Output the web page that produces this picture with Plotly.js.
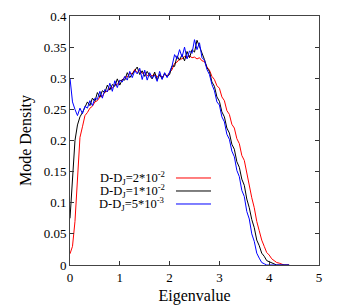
<!DOCTYPE html>
<html><head><meta charset="utf-8">
<script src="https://cdn.plot.ly/plotly-3.0.1.min.js"></script>
<style>html,body{margin:0;padding:0;background:#fff;}#chart{width:349px;height:305px;}</style>
</head><body><div id="chart"></div>
<script>
const eigen = [0,0.05,0.1,0.15,0.2,0.25,0.3,0.35,0.4,0.45,0.5,0.55,0.6,0.65,0.7,0.75,0.8,0.85,0.9,0.95,
1.0,1.05,1.1,1.15,1.2,1.25,1.3,1.35,1.4,1.45,1.5,1.55,1.6,1.65,1.7,1.75,1.8,1.85,1.9,1.95,
2.0,2.05,2.1,2.15,2.2,2.25,2.3,2.35,2.4,2.45,2.5,2.55,2.6,2.65,2.7,2.75,2.8,2.85,2.9,2.95,
3.0,3.05,3.1,3.15,3.2,3.25,3.3,3.35,3.4,3.45,3.5,3.55,3.6,3.65,3.7,3.75,3.8,3.85,3.9,3.95,
4.0,4.05,4.1,4.15,4.2,4.25,4.3,4.35,4.4];

const dens2e2 = [0.018,0.03,0.07,0.14,0.205,0.222,0.24,0.245,0.252,0.255,0.262,0.264,0.27,0.271,0.278,0.279,0.285,0.284,0.29,0.29,
0.296,0.297,0.302,0.302,0.308,0.307,0.314,0.309,0.313,0.308,0.309,0.304,0.306,0.304,0.307,0.302,0.305,0.302,0.306,0.304,
0.31,0.314,0.324,0.326,0.331,0.331,0.335,0.333,0.336,0.333,0.334,0.331,0.333,0.328,0.327,0.318,0.313,0.303,0.298,0.288,
0.284,0.27,0.264,0.248,0.242,0.226,0.22,0.203,0.195,0.176,0.168,0.146,0.13,0.108,0.092,0.07,0.055,0.04,0.03,0.02,
0.016,0.01,0.007,0.004,0.003,0.001,0,0,0];

const dens1e2 = [0.075,0.14,0.2,0.225,0.238,0.245,0.255,0.262,0.256,0.268,0.263,0.277,0.27,0.28,0.277,0.289,0.281,0.29,0.287,0.299,
0.289,0.298,0.297,0.309,0.301,0.307,0.313,0.318,0.306,0.312,0.303,0.311,0.304,0.299,0.31,0.297,0.306,0.299,0.308,0.303,
0.306,0.32,0.319,0.336,0.329,0.338,0.328,0.343,0.333,0.346,0.342,0.361,0.351,0.341,0.33,0.317,0.311,0.294,0.287,0.27,
0.263,0.246,0.238,0.22,0.212,0.194,0.186,0.166,0.157,0.138,0.128,0.106,0.092,0.073,0.06,0.04,0.031,0.019,0.014,0.007,
0.005,0.003,0.001,0,0,0,0,0,0];

const dens5e3 = [0.3,0.262,0.25,0.24,0.252,0.243,0.255,0.252,0.264,0.256,0.268,0.266,0.279,0.268,0.282,0.278,0.292,0.279,0.296,0.285,
0.297,0.294,0.303,0.297,0.311,0.301,0.312,0.307,0.316,0.298,0.313,0.297,0.309,0.3,0.305,0.295,0.311,0.298,0.309,0.301,
0.31,0.32,0.338,0.331,0.346,0.334,0.35,0.331,0.344,0.34,0.362,0.346,0.357,0.333,0.329,0.314,0.306,0.29,0.28,0.262,
0.257,0.238,0.23,0.21,0.202,0.183,0.174,0.152,0.142,0.12,0.11,0.086,0.074,0.05,0.038,0.019,0.011,0.004,0.002,0,
0,0,0,0,0,0,0,0,0];

const seriesNames = ['D-D<sub>J</sub>=2*10<sup>-2</sup>','D-D<sub>J</sub>=1*10<sup>-2</sup>','D-D<sub>J</sub>=5*10<sup>-3</sup>'];
const seriesColors = ['#ff0000','#000000','#0000ff'];
const seriesData = [dens2e2, dens1e2, dens5e3];
const xTicks = [0,1,2,3,4,5];
const yTicks = [0,0.05,0.1,0.15,0.2,0.25,0.3,0.35,0.4];
const yTickText = ['0','0.05','0.1','0.15','0.2','0.25','0.3','0.35','0.4'];

const traces = seriesData.map((d,i)=>({
  x: eigen, y: d, type:'scatter', mode:'lines', name: seriesNames[i],
  line:{color: seriesColors[i], width:1}, showlegend:false
}));

const legY = [0.3494, 0.2972, 0.245];
const shapes = [], annotations = [];
seriesNames.forEach((n,i)=>{
  shapes.push({type:'line', xref:'paper', yref:'paper', x0:0.4257, x1:0.5663, y0:legY[i], y1:legY[i], line:{color:seriesColors[i], width:1}});
  annotations.push({xref:'paper', yref:'paper', x:0.3896, y:legY[i], xanchor:'right', yanchor:'middle', text:n, showarrow:false, font:{size:12.5, color:'#000'}});
});

const layout = {
  width:349, height:305,
  margin:{l:70, r:30, t:16, b:40},
  paper_bgcolor:'#fff', plot_bgcolor:'#fff',
  font:{family:'"Liberation Serif", "Times New Roman", serif', size:13, color:'#000'},
  showlegend:false,
  xaxis:{range:[0,5], tickvals:xTicks, ticks:'inside', ticklen:4, tickcolor:'#333', mirror:'ticks',
    showline:true, linecolor:'#444', linewidth:1, showgrid:false, zeroline:false,
    title:{text:'Eigenvalue', standoff:10}},
  yaxis:{range:[0,0.4], tickvals:yTicks, ticktext:yTickText, ticks:'inside', ticklen:4, tickcolor:'#333', mirror:'ticks',
    showline:true, linecolor:'#444', linewidth:1, showgrid:false, zeroline:false,
    title:{text:'Mode Density', standoff:8}},
  shapes: shapes, annotations: annotations
};
Plotly.newPlot('chart', traces, layout, {staticPlot:true, displayModeBar:false});
</script></body></html>
